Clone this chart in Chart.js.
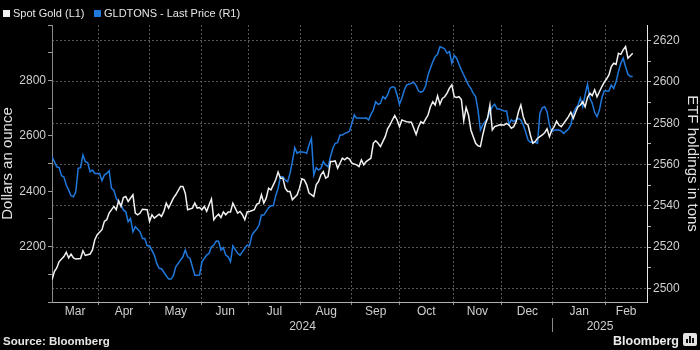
<!DOCTYPE html>
<html>
<head>
<meta charset="utf-8">
<script src="https://cdn.jsdelivr.net/npm/chart.js@4.4.1/dist/chart.umd.min.js"></script>
<style>
html,body{margin:0;padding:0;background:#000;}
#wrap{position:relative;width:700px;height:350px;background:#000;overflow:hidden;font-family:"Liberation Sans",Arial,sans-serif;}
#c{position:absolute;left:0;top:0;}
.lt{position:absolute;top:7px;font-size:11px;line-height:13px;color:#e6e6e6;white-space:nowrap;}
.sw{position:absolute;top:10px;width:7px;height:7px;}
#src{position:absolute;left:3px;top:335px;font-size:11.5px;line-height:13px;font-weight:bold;color:#e6e6e6;white-space:nowrap;}
#logo{position:absolute;left:613px;top:334px;font-size:12.5px;line-height:14px;font-weight:bold;color:#ececec;white-space:nowrap;}
#icon{position:absolute;left:683px;top:333px;width:14px;height:13px;background:#e4e4e4;border-radius:2px;}
#icon i{position:absolute;bottom:3px;width:2px;background:#111;}
</style>
</head>
<body>
<div id="wrap">
  <canvas id="c" width="700" height="350"></canvas>
  <div class="sw" style="left:3px;background:#f2f2f2"></div>
  <div class="lt" style="left:13px">Spot Gold (L1)</div>
  <div class="sw" style="left:94px;background:#1f78dc"></div>
  <div class="lt" style="left:104px">GLDTONS - Last Price (R1)</div>
  <div id="src">Source: Bloomberg</div>
  <div id="logo">Bloomberg</div>
  <div id="icon"><i style="left:3px;height:4px"></i><i style="left:6px;height:7px"></i><i style="left:9px;height:5px"></i></div>
</div>
<script>
// ---- categories / axis data ----
const MONTHS = ['Mar','Apr','May','Jun','Jul','Aug','Sep','Oct','Nov','Dec','Jan','Feb'];
// month boundaries in trading-day index (first = start of data window, last = end of axis)
const monthStarts = [0, 19.5, 41, 63, 82.5, 104.5, 126, 146, 168.5, 189, 210.5, 232.5, 250];
const YEARS = ['2024','2025'];
const yearStarts = [0, 210.5, 250];

const goldRange = [2000, 3000];
const goldTickLabels = [2200, 2400, 2600, 2800];
const tonsRange = [2493.4, 2627.6];
const tonsTickLabels = [2500, 2520, 2540, 2560, 2580, 2600, 2620];

// ---- series: Spot Gold (USD/oz) ----
const goldDay = [0,1,2,3,5,6,7,8,9,10,12,13,14,16,17,18,19,21,22,23,24,26,27,28,29,30,31,32,34,35,36,37,38,40,41,42,43,45,46,47,48,49,51,52,54,55,56,57,59,60,61,62,
63,64,65,66,67,68,69,70,71,72,73,74,75,76,78,79,80,81,82,83,85,86,87,88,89,90,91,92,93,94,95,96,97,98,99,100,101,103,104,105,106,107,108,110,111,112,113,114,115,116,117,118,119,120,121,122,123,124,125,
126,128,129,130,131,132,133,134,135,136,137,138,139,140,141,142,143,144,145,146,147,148,149,151,152,153,154,155,156,157,158,159,160,161,162,163,164,165,166,167,168,169,170,171,172,173,174,175,176,177,178,179,180,181,182,183,184,185,186,187,188,
190,191,192,193,194,195,196,197,198,199,200,201,202,203,204,205,206,207,208,209,210,211,212,213,214,215,216,217,218,219,220,221,222,223,224,225,226,227,228,229,230,231,232,233,234,235,236,237,238,239,240,241,242,243,244];
const goldPrice = [2080,2110,2123,2146,2164,2180,2159,2173,2159,2155,2157,2185,2168,2173,2188,2225,2243,2261,2291,2297,2321,2345,2333,2365,2345,2377,2381,2363,2387,2321,2315,2321,2335,2333,2291,2315,2303,2317,2309,2327,2357,2339,2375,2387,2417,2417,2393,2333,2339,2357,2339,2341,
2333,2345,2327,2351,2372,2297,2309,2317,2305,2325,2315,2325,2325,2357,2321,2327,2315,2297,2325,2327,2333,2353,2357,2387,2357,2375,2411,2405,2423,2441,2469,2447,2447,2411,2399,2399,2369,2387,2411,2445,2441,2423,2393,2381,2423,2435,2459,2471,2447,2453,2507,2507,2509,2483,2501,2519,2513,2521,2516,
2501,2495,2489,2513,2495,2507,2513,2519,2573,2582,2573,2561,2579,2597,2625,2639,2657,2673,2657,2633,2657,2654,2651,2649,2627,2605,2633,2651,2645,2660,2675,2705,2723,2711,2744,2714,2735,2741,2754,2772,2784,2741,2738,2741,2731,2655,2702,2675,2621,2597,2573,2564,2561,2603,2639,2663,2711,2621,2633,2636,2640,
2639,2645,2639,2627,2633,2651,2687,2711,2669,2645,2639,2603,2573,2579,2591,2597,2603,2611,2625,2597,2621,2633,2653,2639,2633,2645,2657,2669,2685,2663,2685,2705,2711,2723,2705,2738,2754,2745,2766,2741,2759,2777,2793,2805,2820,2850,2862,2858,2898,2894,2910,2922,2880,2889,2898];

// ---- series: GLDTONS (tons) ----
const tonsDay = [0,1,2,3,4,5,6,7,8,9,10,11,12,13,14,15,16,17,18,19,20,21,22,23,24,25,26,27,29,30,31,32,33,34,35,37,38,39,40,41,43,44,45,46,47,48,49,50,51,52,54,55,56,57,58,59,60,61,62,
63,64,65,66,67,68,69,70,71,72,73,74,75,76,78,79,80,81,82,83,84,85,86,87,88,89,91,92,93,94,95,96,97,98,99,100,101,102,103,104,106,107,108,109,110,111,112,113,114,115,116,117,118,119,120,121,122,123,124,125,
126,127,128,129,131,132,133,134,135,136,137,138,139,140,141,142,143,144,145,146,147,148,149,151,152,153,154,155,156,157,158,159,160,161,162,163,164,165,166,167,168,169,170,171,172,173,174,175,176,177,178,179,180,181,183,184,185,186,187,188,
190,191,192,193,194,195,196,197,198,199,200,201,202,203,204,205,206,207,208,209,210,211,212,213,214,215,216,217,218,219,220,221,222,223,224,225,226,227,228,229,230,231,232,233,234,235,236,237,238,239,240,241,242,243,244];
const tons = [2563.8,2561.4,2558.9,2558.5,2554.6,2554.0,2550.1,2547.6,2544.9,2544.4,2546.8,2558.2,2558.5,2564.6,2561.4,2561.0,2556.5,2557.3,2555.7,2555.7,2555.7,2552.2,2554.9,2555.7,2557.0,2548.5,2547.6,2543.6,2540.4,2538.0,2537.1,2532.3,2533.9,2527.4,2529.9,2527.4,2524.2,2524.2,2520.6,2520.6,2516.1,2512.1,2509.7,2509.5,2507.8,2506.1,2504.5,2504.5,2506.1,2510.5,2513.7,2515.3,2518.6,2515.3,2514.5,2510.5,2506.4,2506.4,2506.5,
2512.9,2514.5,2516.1,2517.0,2520.2,2521.0,2522.9,2522.8,2518.6,2519.7,2516.1,2515.3,2512.9,2520.6,2517.0,2516.1,2517.7,2519.4,2521.0,2520.6,2525.8,2527.4,2528.7,2530.7,2535.5,2535.5,2539.1,2540.0,2540.0,2544.9,2548.5,2554.1,2554.1,2552.5,2551.7,2555.7,2561.4,2568.2,2565.4,2566.2,2566.0,2565.4,2569.5,2572.7,2554.9,2558.5,2557.3,2558.2,2561.4,2559.8,2558.9,2563.8,2567.9,2570.3,2570.6,2574.3,2574.3,2575.1,2575.5,2576.2,
2580.0,2584.0,2582.4,2582.6,2582.4,2582.6,2581.6,2584.3,2586.4,2590.4,2589.2,2589.6,2592.9,2591.8,2593.7,2596.9,2597.7,2597.4,2593.7,2589.2,2592.1,2596.1,2598.5,2599.4,2599.8,2598.2,2595.6,2595.0,2595.6,2598.2,2603.4,2606.6,2609.8,2612.3,2613.4,2617.1,2616.6,2616.0,2613.9,2614.7,2609.1,2612.8,2611.5,2608.6,2605.8,2603.4,2601.0,2598.5,2596.9,2594.5,2592.9,2586.4,2576.7,2579.2,2582.4,2585.3,2588.0,2589.2,2586.9,2586.9,
2585.9,2585.9,2579.5,2581.6,2580.8,2581.6,2582.4,2581.6,2579.2,2575.9,2571.9,2570.8,2570.9,2570.8,2570.3,2584.8,2587.5,2588.0,2585.6,2579.2,2575.9,2576.7,2576.7,2576.7,2576.2,2575.1,2576.2,2577.2,2579.2,2584.8,2587.2,2588.8,2592.1,2588.0,2593.7,2598.9,2592.1,2589.7,2585.3,2583.2,2586.4,2592.1,2595.6,2595.6,2595.6,2598.5,2596.9,2600.1,2605.0,2609.1,2611.5,2607.4,2603.7,2602.6,2602.6];

// ---- derived ----
const FONT = '"Liberation Sans", Arial, sans-serif';
const boundaries = monthStarts.slice(1, -1);
const monthMids = MONTHS.map((m, i) => (monthStarts[i] + monthStarts[i + 1]) / 2);
const yearMids = YEARS.map((y, i) => (yearStarts[i] + yearStarts[i + 1]) / 2);
const goldTicks = []; for (let v = goldRange[0]; v <= goldRange[1]; v += 100) goldTicks.push(v);
const tonsTicks = []; for (let v = 2500; v <= 2620; v += 10) tonsTicks.push(v);
const isB = v => boundaries.some(b => Math.abs(b - v) < 1e-6);
const GRID = '#575757';
const TICKTXT = '#cfcfcf';

new Chart(document.getElementById('c'), {
  type: 'line',
  data: {
    datasets: [
      { label: 'Spot Gold (L1)', data: goldDay.map((d, i) => ({x: d, y: goldPrice[i]})),
        xAxisID: 'x', yAxisID: 'yL', borderColor: '#f2f2f2', backgroundColor: '#f2f2f2',
        borderWidth: 1.5, pointRadius: 0, tension: 0 },
      { label: 'GLDTONS - Last Price (R1)', data: tonsDay.map((d, i) => ({x: d, y: tons[i]})),
        xAxisID: 'x', yAxisID: 'yR', borderColor: '#1f78dc', backgroundColor: '#1f78dc',
        borderWidth: 1.5, pointRadius: 0, tension: 0 }
    ]
  },
  options: {
    responsive: false, animation: false, devicePixelRatio: 1,
    layout: { padding: { top: 25, left: 0, right: 0, bottom: 0 } },
    plugins: { legend: { display: false }, tooltip: { enabled: false } },
    events: [],
    scales: {
      x: {
        type: 'linear', position: 'bottom', weight: 0, min: 0, max: 250,
        afterBuildTicks: s => { s.ticks = boundaries.concat(monthMids).sort((a, b) => a - b).map(v => ({value: v})); },
        afterFit: s => { s.height = 16; },
        ticks: { autoSkip: false, maxRotation: 0, minRotation: 0, padding: -1, color: TICKTXT,
          font: { family: FONT, size: 12 },
          callback: v => { const i = monthMids.findIndex(m => Math.abs(m - v) < 1e-6); return i >= 0 ? MONTHS[i] : ''; } },
        grid: { color: c => (c.tick && isB(c.tick.value)) ? GRID : 'rgba(0,0,0,0)',
          tickColor: c => (c.tick && isB(c.tick.value)) ? '#8a8a8a' : 'rgba(0,0,0,0)',
          lineWidth: 1, drawTicks: true, tickLength: 3 },
        border: { display: true, color: '#b0b0b0', width: 1, dash: [2, 2] }
      },
      xY: {
        type: 'linear', position: 'bottom', weight: 1, min: 0, max: 250,
        afterBuildTicks: s => { s.ticks = [yearMids[0], yearStarts[1], yearMids[1]].map(v => ({value: v})); },
        afterFit: s => { s.height = 32; },
        ticks: { autoSkip: false, maxRotation: 0, minRotation: 0, padding: -12.5, color: TICKTXT,
          font: { family: FONT, size: 12 },
          callback: v => { const i = yearMids.findIndex(m => Math.abs(m - v) < 1e-6); return i >= 0 ? YEARS[i] : ''; } },
        grid: { drawOnChartArea: false, drawTicks: true, tickLength: 14, color: 'rgba(0,0,0,0)',
          tickColor: c => (c.tick && Math.abs(c.tick.value - yearStarts[1]) < 1e-6) ? '#8a8a8a' : 'rgba(0,0,0,0)' },
        border: { display: false }
      },
      yL: {
        type: 'linear', position: 'left', min: goldRange[0], max: goldRange[1],
        afterBuildTicks: s => { s.ticks = goldTicks.map(v => ({value: v})); },
        afterFit: s => { s.width = 52; },
        ticks: { padding: 2, color: TICKTXT, font: { family: FONT, size: 12 },
          callback: v => goldTickLabels.includes(v) ? String(v) : '' },
        grid: { drawOnChartArea: false, drawTicks: true, tickLength: 4, tickColor: '#9a9a9a', color: 'rgba(0,0,0,0)' },
        border: { display: true, color: '#8a8a8a', width: 1 },
        title: { display: true, text: 'Dollars an ounce', color: '#e2e2e2', padding: 0,
          font: { family: FONT, size: 15, lineHeight: 1 } }
      },
      yR: {
        type: 'linear', position: 'right', min: tonsRange[0], max: tonsRange[1],
        afterBuildTicks: s => { s.ticks = tonsTicks.map(v => ({value: v})); },
        afterFit: s => { s.width = 53; },
        ticks: { padding: 2, color: TICKTXT, font: { family: FONT, size: 12 },
          callback: v => tonsTickLabels.includes(v) ? String(v) : '' },
        grid: { drawOnChartArea: true, drawTicks: true, tickLength: 4, tickColor: '#bdbdbd',
          color: c => (c.tick && tonsTickLabels.includes(c.tick.value)) ? GRID : 'rgba(0,0,0,0)' },
        border: { display: true, color: '#e8e8e8', width: 1, dash: [2, 2] },
        title: { display: true, text: 'ETF holdings in tons', color: '#e2e2e2', padding: 0,
          font: { family: FONT, size: 15, lineHeight: 1 } }
      }
    }
  }
});
</script>
</body>
</html>
